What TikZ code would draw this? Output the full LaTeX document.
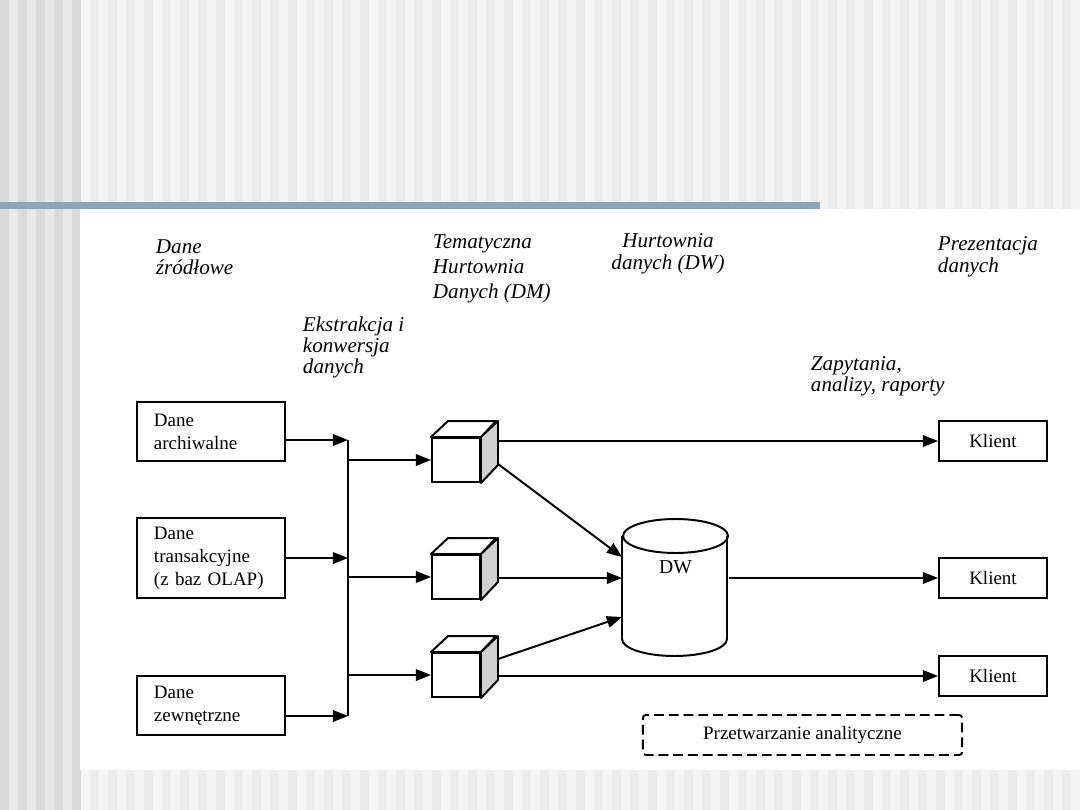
\documentclass[tikz,border=0pt]{standalone}
\usepackage{fontspec}
\setmainfont{Liberation Serif}
\usepackage{xcolor}
\usetikzlibrary{arrows.meta,positioning,calc}
\definecolor{StripeDark} {RGB}{218,218,218}
\definecolor{StripeLight}{RGB}{232,232,232}
\definecolor{PanelLight} {RGB}{244,244,244}
\definecolor{PanelDark}  {RGB}{236,236,236}
\definecolor{SlideBar}   {RGB}{139,165,191}
\definecolor{CubeSide}   {RGB}{208,208,208}

\begin{document}
\begin{tikzpicture}[x=0.025cm,y=-0.025cm,line width=1.4pt,
      head/.style={anchor=north west,inner sep=0pt,align=left,
                   font=\fontsize{15}{15}\selectfont\itshape},
      src/.style={rectangle,draw,minimum width=3.7cm,text width=2.85cm,
                  inner xsep=0.425cm,align=left,
                  font=\fontsize{13.5}{16.5}\selectfont},
      cube/.style={rectangle,draw,fill=white,minimum width=1.2cm,
                   minimum height=1.1cm,inner sep=0pt},
      client/.style={rectangle,draw,minimum width=2.7cm,minimum height=1cm,
                     font=\fontsize{13.5}{16}\selectfont},
      arr/.style={-{Triangle[length=3.8mm,width=2.9mm]}}]
    \useasboundingbox (0,0) rectangle (1080,810);
    % slide background
    \fill[PanelLight] (0,0) rectangle (1080,810);
    \fill[StripeLight] (0,0) rectangle (80,810);
    \foreach \i in {0,...,4}
      \fill[StripeDark] (\i*18,0) rectangle ++(9,810);
    \foreach \i in {0,...,55}
      \fill[PanelDark] (90+\i*18,0) rectangle ++(9,810);
    \fill[white] (80,209) rectangle (1080,770);
    \fill[SlideBar] (0,202) rectangle (820,209);

    % headings
    \node[head](hsrc) at (155,239) {Dane\\źródłowe};
    \node[head,font=\fontsize{15}{17.5}\selectfont\itshape](hdm) at (432,234)
      {Tematyczna\\Hurtownia\\Danych (DM)};
    \node[head](hetl) at (302,316) {Ekstrakcja i\\konwersja\\danych};
    \node[head,anchor=north,align=center](hdw) at (668,233) {Hurtownia\\danych (DW)};
    \node[head](hpres) at (937,236) {Prezentacja\\danych};
    \node[head,font=\fontsize{15}{12.5}\selectfont\itshape](hqry) at (810,356)
      {Zapytania,\\analizy, raporty};

    % sources
    \node[src,minimum height=1.475cm](src1) at (211,431.5) {Dane\\archiwalne};
    \node[src,minimum height=2cm](src2) at (211,558) {Dane\\transakcyjne\\(z baz OLAP)};
    \node[src,minimum height=1.475cm](src3) at (211,705.5) {Dane\\zewnętrzne};
    \coordinate (bustop) at (348,440);
    \coordinate (busbot) at (348,716);
    \coordinate (s1) at ($(src1.east)+(0,8.5)$);
    \coordinate (s3) at ($(src3.east)+(0,10.5)$);
    \draw[arr](s1)--(s1 -| bustop);
    \draw[arr](src2.east)--(src2.east -| bustop);
    \draw[arr](s3)--(s3 -| bustop);
    \draw(bustop)--(busbot);

    % data marts
    \node[cube](c1) at (456,460) {};
    \node[cube](c2) at (456,577) {};
    \node[cube](c3) at (456,675) {};
    \foreach \c in {c1,c2,c3}{
      \draw[fill=white,line join=round] (\c.north west) -- ++(17,-16) -- ++(48,0)
        -- (\c.north east) -- cycle;
      \draw[fill=CubeSide,line join=round] (\c.north east) -- ++(17,-16) -- ++(0,44)
        -- (\c.south east) -- cycle;
      \coordinate (\c r) at ($(\c.east)+(17,-16)$);
      \draw[arr](\c.west -| bustop)--(\c.west);
    }

    % warehouse
    \node[minimum width=2.625cm,minimum height=3.425cm,inner sep=0pt](dw) at (675.5,588.5) {};
    \draw (dw.north west) ++(0,17) -- ++(0,103)
      arc[start angle=180,end angle=0,x radius=52.5,y radius=17] -- ++(0,-103);
    \draw ($(dw.north)+(0,17)$) ellipse [x radius=52.5,y radius=17];
    \node[font=\fontsize{14}{14}\selectfont](dwtxt) at (675.5,567) {DW};

    % clients
    \node[client](kl1) at (993,441) {Klient};
    \node[client](kl2) at (993,578) {Klient};
    \node[client](kl3) at (993,676) {Klient};
    \draw[arr](c1r |- kl1.west)--(kl1.west);
    \draw[arr]($(c1r)+(0,20)$)--($(dw.west)+(0,-31.5)$);
    \draw[arr](c2r |- kl2.west)--(kl2.west -| dw.west);
    \draw[arr](c3r)--($(dw.west)+(0,28.5)$);
    \draw[arr](c3r |- kl3.west)--(kl3.west);
    \draw[arr](kl2.west -| dw.east)--(kl2.west);

    \node[draw,dash pattern=on 7pt off 3.5pt,rounded corners=2pt,minimum width=7.975cm,
          minimum height=1cm,font=\fontsize{13.5}{16}\selectfont](olap) at (802.5,735)
      {Przetwarzanie analityczne};
  \end{tikzpicture}
\end{document}
